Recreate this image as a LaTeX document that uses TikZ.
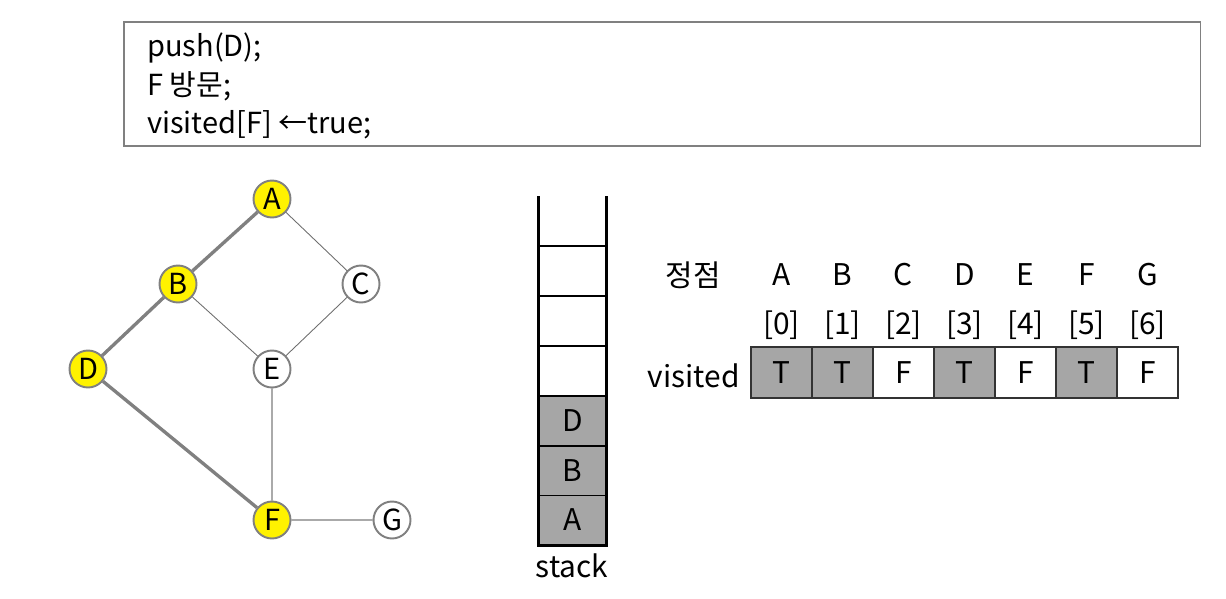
\documentclass[tikz,border=0pt]{standalone}
\usepackage{fontspec}
\setmainfont{Noto Sans CJK KR}
\definecolor{rimgray}{RGB}{128,128,128}
\definecolor{cellgray}{RGB}{166,166,166}
\definecolor{thingray}{RGB}{110,110,110}
\definecolor{lightgray}{RGB}{170,170,170}
\begin{document}
\begin{tikzpicture}[x=0.02cm,y=-0.02cm]
                        \tikzstyle{vertex}=[circle,draw=rimgray,line width=1.1pt,fill=white,minimum size=0.74cm,inner sep=0pt,font=\fontsize{16.5}{18}\selectfont]
                        \tikzstyle{seen}=[vertex,fill=yellow]
                        \tikzstyle{pathedge}=[draw=rimgray,line width=1.9pt]
                        \tikzstyle{plainedge}=[draw=thingray,line width=0.5pt]
                        \tikzstyle{softedge}=[draw=lightgray,line width=0.8pt]
                        \tikzstyle{stackcell}=[draw=black,line width=0.8pt,minimum width=1.34cm,minimum height=1cm,inner sep=0pt,font=\fontsize{17}{20}\selectfont]
                        \tikzstyle{stackwall}=[draw=black,line width=1.7pt]
                        \tikzstyle{visitcell}=[draw=black!80,line width=0.6pt,minimum width=1.22cm,minimum height=1.02cm,inner sep=0pt,font=\fontsize{17}{20}\selectfont]
                        \tikzstyle{label}=[inner sep=0pt,font=\fontsize{17}{20}\selectfont]
                        \useasboundingbox (0,0) rectangle (1226,598);
                        % code box
                        \node[draw=rimgray,line width=0.9pt,minimum width=21.54cm,minimum height=2.48cm,anchor=north west] (codebox) at (123,21) {};
                        \node[anchor=west,align=left,inner sep=0pt,font=\fontsize{16.5}{22}\selectfont] (code) at (147,86)
                            {push(D);\\F 방문;\\visited[F] ←true;};
                        % graph
                        \node[seen] (A) at (272,199) {A};
                        \node[seen] (B) at (178,284) {B};
                        \node[vertex] (C) at (361,284) {C};
                        \node[seen] (D) at (88,369) {D};
                        \node[vertex] (E) at (272,369) {E};
                        \node[seen] (F) at (272,520) {F};
                        \node[vertex] (G) at (392,520) {G};
                        \draw[pathedge] (A) -- (B);
                        \draw[pathedge] (B) -- (D);
                        \draw[pathedge] (D) -- (F);
                        \draw[plainedge] (A) -- (C);
                        \draw[plainedge] (B) -- (E);
                        \draw[plainedge] (C) -- (E);
                        \draw[softedge] (E) -- (F);
                        \draw[softedge] (F) -- (G);
                        % stack
                        \node[stackcell,fill=cellgray] (s1) at (572.5,519.5) {A};
                        \node[stackcell,fill=cellgray] (s2) at (572.5,470.5) {B};
                        \node[stackcell,fill=cellgray] (s3) at (572.5,421) {D};
                        \node[stackcell] (s4) at (572.5,371) {};
                        \node[stackcell] (s5) at (572.5,321) {};
                        \node[stackcell] (s6) at (572.5,271) {};
                        \draw[stackwall] ([yshift=0.98cm]s6.north west) -- (s1.south west) -- (s1.south east) -- ([yshift=0.98cm]s6.north east);
                        \node[label] (stk) at (572,566) {stack};
                        % visited table
                        \node[label] (vtx) at (693,275) {정점};
                        \node[label] (hA) at (781.5,275) {A};
                        \node[label] (hB) at (842.5,275) {B};
                        \node[label] (hC) at (903.5,275) {C};
                        \node[label] (hD) at (964.5,275) {D};
                        \node[label] (hE) at (1025.5,275) {E};
                        \node[label] (hF) at (1086.5,275) {F};
                        \node[label] (hG) at (1147.5,275) {G};
                        \node[label] (i0) at (781.5,325) {[0]};
                        \node[label] (i1) at (842.5,325) {[1]};
                        \node[label] (i2) at (903.5,325) {[2]};
                        \node[label] (i3) at (964.5,325) {[3]};
                        \node[label] (i4) at (1025.5,325) {[4]};
                        \node[label] (i5) at (1086.5,325) {[5]};
                        \node[label] (i6) at (1147.5,325) {[6]};
                        \node[visitcell,fill=cellgray] (v0) at (781.5,372.5) {T};
                        \node[visitcell,fill=cellgray] (v1) at (842.5,372.5) {T};
                        \node[visitcell] (v2) at (903.5,372.5) {F};
                        \node[visitcell,fill=cellgray] (v3) at (964.5,372.5) {T};
                        \node[visitcell] (v4) at (1025.5,372.5) {F};
                        \node[visitcell,fill=cellgray] (v5) at (1086.5,372.5) {T};
                        \node[visitcell] (v6) at (1147.5,372.5) {F};
                        \node[label,anchor=east] (vis) at (740,376) {visited};
                    \end{tikzpicture}
\end{document}
